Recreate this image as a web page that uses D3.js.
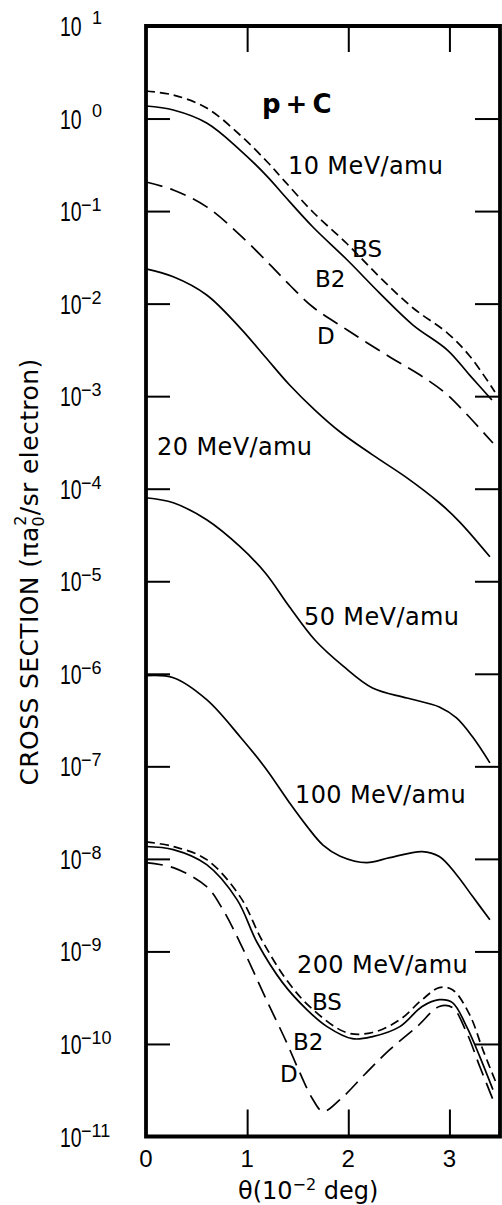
<!DOCTYPE html>
<html><head><meta charset="utf-8">
<script src="https://cdn.jsdelivr.net/npm/d3@7"></script>
<style>body{margin:0;background:#fff}</style>
</head><body>
<svg id="chart" width="502" height="1205"></svg>
<script>
// ---- data (theta in 10^-2 deg, cross section in pi a0^2 / sr electron) ----
const theta10BS = [0, 0.27, 0.60, 0.93, 1.20, 1.37, 1.65, 1.99, 2.31, 2.64, 2.98, 3.20, 3.45];
const cs10BS    = [1.985, 1.796, 1.30, 0.664, 0.339, 0.211, 0.0977, 0.0441, 0.0194, 0.00897, 0.00481, 0.00272, 0.00111];
const theta10B2 = [0, 0.27, 0.60, 0.93, 1.20, 1.37, 1.65, 1.99, 2.31, 2.64, 2.98, 3.20, 3.42];
const cs10B2    = [1.367, 1.237, 0.895, 0.457, 0.236, 0.1455, 0.0673, 0.0296, 0.0130, 0.00587, 0.00315, 0.00169, 0.00091];
const theta10D  = [0, 0.27, 0.60, 0.93, 1.23, 1.42, 1.65, 1.99, 2.41, 2.71, 2.96, 3.15, 3.43];
const cs10D     = [0.206, 0.169, 0.111, 0.0551, 0.0261, 0.0159, 0.00919, 0.00519, 0.00265, 0.00169, 0.00108, 0.000674, 0.000312];

const theta20 = [0, 0.27, 0.60, 0.93, 1.18, 1.42, 1.67, 1.92, 2.24, 2.58, 2.90, 3.10, 3.40];
const cs20    = [0.0237, 0.0195, 0.0124, 0.00547, 0.00265, 0.00132, 0.000708, 0.000410, 0.000232, 0.000131, 7.05e-5, 4.39e-5, 1.84e-5];

const theta50 = [0, 0.27, 0.60, 0.93, 1.18, 1.42, 1.67, 1.95, 2.24, 2.58, 2.90, 3.07, 3.23, 3.40];
const cs50    = [7.98e-5, 7.05e-5, 4.61e-5, 2.36e-5, 1.23e-5, 5.27e-6, 2.32e-6, 1.21e-6, 7.02e-7, 5.47e-7, 4.38e-7, 3.33e-7, 2.07e-7, 1.09e-7];

const theta100 = [0, 0.27, 0.60, 0.93, 1.18, 1.42, 1.59, 1.75, 1.92, 2.18, 2.41, 2.73, 2.90, 3.07, 3.23, 3.40];
const cs100    = [9.53e-7, 9.06e-7, 5.25e-7, 2.09e-7, 9.59e-8, 4.02e-8, 2.26e-8, 1.41e-8, 1.07e-8, 9.10e-9, 1.03e-8, 1.20e-8, 1.06e-8, 6.75e-9, 3.91e-9, 2.20e-9];

const theta200BS = [0, 0.27, 0.60, 0.93, 1.15, 1.40, 1.63, 1.98, 2.24, 2.51, 2.73, 2.90, 3.03, 3.20, 3.33, 3.46];
const cs200BS    = [1.53e-8, 1.36e-8, 9.82e-9, 3.91e-9, 1.30e-9, 4.75e-10, 2.47e-10, 1.33e-10, 1.33e-10, 1.83e-10, 3.01e-10, 4.06e-10, 3.86e-10, 2.07e-10, 8.69e-11, 3.83e-11];
const theta200B2 = [0, 0.27, 0.60, 0.90, 1.10, 1.35, 1.59, 1.79, 2.04, 2.24, 2.51, 2.73, 2.90, 3.03, 3.17, 3.30, 3.43];
const cs200B2    = [1.36e-8, 1.26e-8, 8.67e-9, 3.63e-9, 1.24e-9, 4.60e-10, 2.35e-10, 1.54e-10, 1.14e-10, 1.20e-10, 1.54e-10, 2.54e-10, 3.01e-10, 2.80e-10, 1.54e-10, 7.31e-11, 3.21e-11];
const theta200D  = [0, 0.27, 0.60, 0.76, 0.93, 1.19, 1.39, 1.52, 1.65, 1.75, 1.92, 2.18, 2.41, 2.68, 2.90, 3.03, 3.17, 3.30, 3.43];
const cs200D     = [9.10e-9, 8.04e-9, 5.01e-9, 2.83e-9, 1.24e-9, 3.01e-10, 1.04e-10, 4.91e-11, 2.51e-11, 1.86e-11, 2.51e-11, 4.91e-11, 8.69e-11, 1.54e-10, 2.54e-10, 2.47e-10, 1.33e-10, 5.70e-11, 2.51e-11];

const xTickValues = [0, 1, 2, 3];
const yTickExponents = [1, 0, -1, -2, -3, -4, -5, -6, -7, -8, -9, -10, -11];

const energyLabels = ["10 MeV/amu", "20 MeV/amu", "50 MeV/amu", "100 MeV/amu", "200 MeV/amu"];
const energyLabelTheta = [1.404, 0.109, 1.562, 1.473, 1.493];
const energyLabelValue = [0.252, 2.31e-4, 3.37e-6, 4.02e-8, 5.85e-10];

const methodLabels = ["BS", "B2", "D", "BS", "B2", "D"];
const methodLabelTheta = [2.037, 1.671, 1.691, 1.641, 1.453, 1.325];
const methodLabelValue = [0.0319, 0.0151, 0.00366, 2.33e-10, 8.6e-11, 3.88e-11];

// ---- layout ----
const svg = d3.select("#chart");
svg.append("rect").attr("width", 502).attr("height", 1205).attr("fill", "#fff");

const x = d3.scaleLinear().domain([0, 3.5]).range([146, 500]);
const y = d3.scaleLog().domain([1e-11, 1e1]).range([1136.5, 26]);

const decadeTicks = d3.range(0, -11, -1).map(e => Math.pow(10, e));

// inward ticks
const tickStyle = g => { g.select(".domain").remove(); g.selectAll("line").attr("stroke", "#000").attr("stroke-width", 2); g.selectAll("text").remove(); };
svg.append("g").attr("transform", "translate(0,1136.5)")
  .call(d3.axisBottom(x).tickValues([1, 2, 3]).tickSizeInner(-27).tickSizeOuter(0)).call(tickStyle);
svg.append("g").attr("transform", "translate(0,26)")
  .call(d3.axisTop(x).tickValues([1, 2, 3]).tickSizeInner(-26).tickSizeOuter(0)).call(tickStyle);
svg.append("g").attr("transform", "translate(146,0)")
  .call(d3.axisLeft(y).tickValues(decadeTicks).tickSizeInner(-24).tickSizeOuter(0)).call(tickStyle);
svg.append("g").attr("transform", "translate(500,0)")
  .call(d3.axisRight(y).tickValues(decadeTicks).tickSizeInner(-25).tickSizeOuter(0)).call(tickStyle);

// frame
svg.append("path")
  .attr("d", `M${x(0)},${y(1e1)}H${x(3.5)}V${y(1e-11)}H${x(0)}Z`)
  .attr("fill", "none").attr("stroke", "#000").attr("stroke-width", 3.8);

// x tick labels
svg.append("g").selectAll("text").data(xTickValues).join("text")
  .attr("x", d => x(d)).attr("y", 1167)
  .attr("text-anchor", "middle")
  .attr("font-family", "Liberation Sans, Arial, sans-serif").attr("font-size", 24)
  .text(d => d);

// y tick labels (narrow, tall "10" with exponent)
const tickFont = "Liberation Sans, Arial, sans-serif";
const yl = svg.append("g").selectAll("g").data(yTickExponents).join("g")
  .attr("transform", d => `translate(60,${y(Math.pow(10, d))})`);
yl.append("text")
  .attr("transform", "scale(0.72,1)")
  .attr("y", 10)
  .attr("font-family", tickFont).attr("font-size", 27)
  .text("10");
yl.append("text")
  .attr("x", d => d >= 0 ? 32 : 21)
  .attr("y", d => d >= 0 ? -2 : 0)
  .attr("font-family", tickFont).attr("font-size", 18)
  .text(d => d < 0 ? "\u2212" + (-d) : d);

// curves
const line = d3.line().x(d => x(d[0])).y(d => y(d[1])).curve(d3.curveCatmullRom.alpha(0.5));
const series = [
  { t: theta10BS, v: cs10BS, dash: "9,5" },
  { t: theta10B2, v: cs10B2, dash: null },
  { t: theta10D, v: cs10D, dash: "17,8" },
  { t: theta20, v: cs20, dash: null },
  { t: theta50, v: cs50, dash: null },
  { t: theta100, v: cs100, dash: null },
  { t: theta200BS, v: cs200BS, dash: "9,5" },
  { t: theta200B2, v: cs200B2, dash: null },
  { t: theta200D, v: cs200D, dash: "17,8" }
];
svg.append("g").selectAll("path").data(series).join("path")
  .attr("d", s => line(d3.zip(s.t, s.v)))
  .attr("fill", "none").attr("stroke", "#000").attr("stroke-width", 1.7)
  .attr("stroke-dasharray", s => s.dash);

// labels inside the plot
const labFont = "DejaVu Sans, sans-serif";
svg.append("g").selectAll("text").data(energyLabels).join("text")
  .attr("x", (d, i) => x(energyLabelTheta[i])).attr("y", (d, i) => y(energyLabelValue[i]))
  .attr("font-family", labFont).attr("font-size", 24).attr("letter-spacing", 0.4)
  .text(d => d);
svg.append("g").selectAll("text").data(methodLabels).join("text")
  .attr("x", (d, i) => x(methodLabelTheta[i])).attr("y", (d, i) => y(methodLabelValue[i]))
  .attr("font-family", labFont).attr("font-size", 23)
  .text(d => d);
svg.append("text")
  .attr("x", x(1.147)).attr("y", y(1.15))
  .attr("font-family", labFont).attr("font-size", 26).attr("font-weight", "bold")
  .attr("letter-spacing", 5)
  .text("p+C");

// x axis title
const xt = svg.append("text").attr("x", 238).attr("y", 1199)
  .attr("font-family", labFont).attr("font-size", 24);
xt.append("tspan").text("\u03B8(10");
xt.append("tspan").attr("font-size", 16).attr("dy", -9).text("\u22122");
xt.append("tspan").attr("dy", 9).text(" deg)");

// y axis title
const yt = svg.append("text")
  .attr("transform", "translate(38,572) rotate(-90)")
  .attr("text-anchor", "middle")
  .attr("font-family", labFont).attr("font-size", 25).attr("letter-spacing", 0.4);
yt.append("tspan").text("CROSS SECTION (\u03C0a");
yt.append("tspan").attr("font-size", 16).attr("dy", 6).text("0");
yt.append("tspan").attr("font-size", 16).attr("dx", -10).attr("dy", -18).text("2");
yt.append("tspan").attr("dy", 12).text("/sr electron)");
</script>
</body></html>
